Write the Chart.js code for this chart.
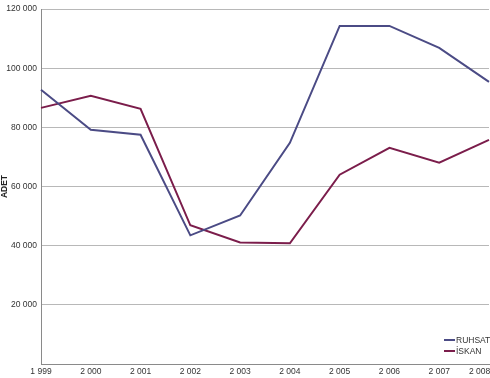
<!DOCTYPE html>
<html>
<head>
<meta charset="utf-8">
<script src="https://cdn.jsdelivr.net/npm/chart.js@4.4.0/dist/chart.umd.min.js"></script>
<style>
  html, body { margin: 0; padding: 0; background: #fff; }
  #wrap { width: 490px; height: 378px; }
</style>
</head>
<body>
<div id="wrap"><canvas id="chartCanvas"></canvas></div>
<script>
// datos
const years = [1999, 2000, 2001, 2002, 2003, 2004, 2005, 2006, 2007, 2008];
const ruhsat = [92700, 79200, 77500, 43500, 50200, 74800, 114300, 114300, 106900, 95400];
const iskan = [86600, 90700, 86300, 46900, 41100, 40800, 64000, 73100, 68100, 75800];
const yTicks = [20000, 40000, 60000, 80000, 100000, 120000];

const fmt = v => String(v).replace(/\B(?=(\d{3})+(?!\d))/g, ' ');
const tickFont = { family: 'Liberation Sans', size: 8.5 };

// leyenda pequeña abajo a la derecha, dentro del área
const cornerLegend = {
  id: 'cornerLegend',
  afterDraw(chart) {
    const ctx = chart.ctx;
    const area = chart.chartArea;
    ctx.save();
    ctx.font = '8.5px "Liberation Sans"';
    ctx.textBaseline = 'middle';
    chart.data.datasets.forEach((ds, i) => {
      const y = area.bottom - 24 + i * 11;
      const x = area.right - 45;
      ctx.strokeStyle = ds.borderColor;
      ctx.lineWidth = 2;
      ctx.beginPath();
      ctx.moveTo(x, y);
      ctx.lineTo(x + 11, y);
      ctx.stroke();
      ctx.fillStyle = '#333';
      ctx.fillText(ds.label, x + 12, y + 0.5);
    });
    ctx.restore();
  }
};

const ctx = document.getElementById('chartCanvas').getContext('2d');
const lineChart = new Chart(ctx, {
  type: 'line',
  data: {
    labels: years,
    datasets: [
      { label: 'RUHSAT', data: ruhsat, borderColor: '#4b4b85', borderWidth: 2, pointRadius: 0, tension: 0, fill: false },
      { label: 'İSKAN', data: iskan, borderColor: '#7b1d4b', borderWidth: 2, pointRadius: 0, tension: 0, fill: false }
    ]
  },
  options: {
    responsive: true,
    maintainAspectRatio: false,
    animation: false,
    layout: { padding: { top: 4, right: 1, left: 0, bottom: 0 } },
    plugins: { legend: { display: false }, tooltip: { enabled: false } },
    scales: {
      x: {
        offset: false,
        grid: { display: false, drawTicks: false },
        border: { color: '#8a8a8a', width: 1 },
        ticks: {
          font: tickFont, color: '#333', padding: 3, maxRotation: 0, autoSkip: false,
          callback: function (v, i) {
            const s = fmt(years[i]);
            return i === years.length - 1 ? s + '\u00a0\u00a0\u00a0\u00a0\u00a0\u00a0\u00a0\u00a0' : s;
          }
        },
        afterFit: s => { s.height = 14; s.paddingLeft = 0; s.paddingRight = 0; }
      },
      y: {
        min: 0, max: 120000,
        afterBuildTicks: s => { s.ticks = [0, ...yTicks].map(v => ({ value: v })); },
        grid: { color: '#b8b8b8', drawTicks: false },
        border: { color: '#8a8a8a', width: 1 },
        ticks: {
          font: tickFont, color: '#333', padding: 4,
          callback: v => (v === 0 ? '' : fmt(v))
        },
        title: { display: true, text: 'ADET', font: { family: 'Liberation Sans', size: 8.5, weight: 'bold' }, color: '#222', padding: { top: 0, bottom: 2 } },
        afterFit: s => { s.width = 41; }
      }
    }
  },
  plugins: [cornerLegend]
});
</script>
</body>
</html>
